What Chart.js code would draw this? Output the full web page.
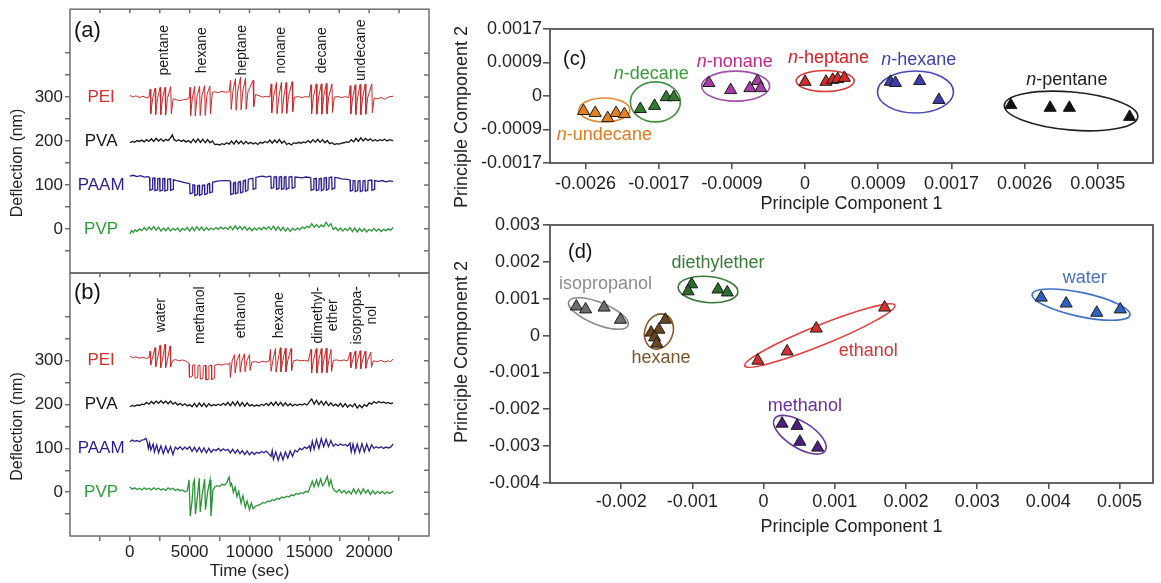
<!DOCTYPE html>
<html>
<head>
<meta charset="utf-8">
<script src="https://cdn.jsdelivr.net/npm/chart.js@4.4.0/dist/chart.umd.min.js"></script>
<style>
  body { margin: 0; background: #fff; width: 1161px; height: 583px; overflow: hidden; position: relative; }
  canvas { position: absolute; }
</style>
</head>
<body>
<canvas id="panelA" width="440" height="288" style="left:0;top:-3px"></canvas>
<canvas id="panelB" width="440" height="322" style="left:0;top:261px"></canvas>
<canvas id="panelC" width="721" height="215" style="left:440px;top:0"></canvas>
<canvas id="panelD" width="721" height="373" style="left:440px;top:210px"></canvas>
<script>
// ---- deflection traces, [time (s), deflection (nm)] ----
const polymerNames = ['PEI', 'PVA', 'PAAM', 'PVP'];
const polymerLevels = [300, 200, 100, 0];
const nameTime = -2400;

const alkanesA = ['pentane', 'hexane', 'heptane', 'nonane', 'decane', 'undecane'];
const alkaneTimesA = [2833, 6083, 9417, 12667, 16083, 19333];
const solventsB = [['water'], ['methanol'], ['ethanol'], ['hexane'], ['dimethyl-', 'ether'], ['isopropa-', 'nol']];
const solventTimesB = [2583, 5917, 9333, 12500, 16333, 19625];

const deflectionTicks = [-50, 0, 50, 100, 150, 200, 250, 300, 350, 400];
const deflectionLabels = [0, 100, 200, 300];
const timeTicks = [-2500, 0, 2500, 5000, 7500, 10000, 12500, 15000, 17500, 20000, 22500];
const timeLabels = [0, 5000, 10000, 15000, 20000];

const peiA = [[0,304],[250,300],[500,303],[800,299],[1100,302],[1400,298],[1600,300],
  [1700,318],[1750,262],[1900,296],[2110,320],[2160,260],[2310,296],[2530,322],[2580,260],[2730,297],[2940,322],[2990,259],[3140,297],[3420,324],[3470,262],[3620,296],
  [3900,294],[4200,292],[4500,294],[4800,295],[4950,298],
  [5030,322],[5080,258],[5230,300],[5420,324],[5470,257],[5620,302],[5830,325],[5880,258],[6030,304],[6250,326],[6300,258],[6450,306],[6690,325],[6740,262],[6890,310],
  [7100,312],[7400,310],[7700,313],[8000,311],[8300,312],
  [8420,338],[8470,272],[8620,314],[8830,342],[8880,270],[9030,316],[9250,345],[9300,271],[9450,314],[9670,343],[9720,272],[9870,312],[10300,338],[10350,278],[10500,306],
  [10800,303],[11100,300],[11400,302],[11700,300],
  [11810,330],[11860,264],[12010,300],[12250,333],[12300,262],[12450,300],[12670,334],[12720,263],[12870,300],[13060,333],[13110,263],[13260,301],[13560,335],[13610,267],[13760,300],
  [14100,301],[14400,299],[14700,301],[15000,300],
  [15140,328],[15190,262],[15340,300],[15580,330],[15630,261],[15780,300],[16000,330],[16050,261],[16200,301],[16420,331],[16470,262],[16620,300],[16890,330],[16940,265],[17090,300],
  [17400,301],[17700,299],[18000,301],[18300,299],
  [18420,326],[18470,262],[18620,298],[18830,328],[18880,260],[19030,298],[19250,329],[19300,260],[19450,298],[19670,330],[19720,261],[19870,298],[20220,330],[20270,264],[20420,298],
  [20700,296],[21000,299],[21300,295],[21600,300],[22000,302]];

const pvaA = [[0,196],[200,199],[400,197],[600,201],[800,199],[1000,202],[1200,198],[1400,203],[1600,199],[1800,205],[2000,199],[2200,206],[2400,200],[2600,205],[2800,199],[3000,204],[3200,201],[3400,207],[3550,214],[3700,203],[3900,200],[4100,203],[4300,199],[4500,202],[4700,198],[4900,201],[5100,196],[5300,204],[5500,197],[5700,205],[5900,197],[6100,204],[6300,196],[6500,203],[6700,196],[6900,200],[7100,192],[7300,193],[7500,191],[7700,194],[7900,192],[8100,196],[8300,193],[8500,200],[8700,193],[8900,201],[9100,194],[9300,200],[9500,193],[9700,199],[9900,194],[10100,197],[10300,193],[10500,196],[10700,192],[10900,197],[11100,195],[11300,199],[11500,196],[11700,202],[11900,195],[12100,202],[12300,196],[12500,203],[12700,195],[12900,200],[13100,192],[13300,195],[13500,191],[13700,196],[13900,194],[14100,197],[14300,195],[14500,198],[14700,196],[14900,201],[15100,196],[15300,203],[15500,197],[15700,204],[15900,197],[16100,203],[16300,196],[16500,201],[16700,194],[16900,196],[17100,192],[17300,194],[17500,193],[17700,195],[17900,196],[18100,198],[18300,197],[18500,203],[18700,198],[18900,206],[19100,199],[19300,207],[19500,200],[19700,206],[19900,201],[20100,205],[20300,200],[20500,203],[20700,200],[20900,203],[21100,201],[21300,204],[21500,200],[21700,203],[22000,201]];

const paamA = [[0,120],[300,122],[600,119],[900,121],[1200,118],[1550,119],
  [1650,117],[1680,88],[1880,90],[1910,115],[2070,116],[2100,87],[2300,89],[2330,114],[2490,115],[2520,86],[2720,88],[2750,114],[2900,115],[2930,86],[3130,88],[3160,113],[3380,114],[3410,88],[3610,90],[3640,112],
  [3900,110],[4200,108],[4500,106],[4800,104],[4950,103],
  [5000,104],[5030,80],[5230,82],[5260,100],[5400,100],[5430,76],[5630,78],[5660,98],[5800,99],[5830,76],[6030,79],[6060,99],[6230,100],[6260,78],[6460,80],[6490,101],[6650,103],[6680,82],[6880,84],[6910,106],
  [7200,108],[7500,109],[7800,110],[8100,110],[8350,109],
  [8400,108],[8430,78],[8630,80],[8660,104],[8800,106],[8830,80],[9030,82],[9060,106],[9220,108],[9250,82],[9450,84],[9480,109],[9640,111],[9670,85],[9870,88],[9900,113],[10280,115],[10310,90],[10500,92],[10530,117],
  [10800,119],[11100,120],[11400,118],[11700,120],
  [11790,119],[11820,92],[12020,94],[12050,118],[12230,119],[12260,90],[12460,92],[12490,118],[12650,119],[12680,90],[12880,92],[12910,118],[13040,119],[13070,90],[13270,93],[13300,118],[13540,119],[13570,92],[13770,95],[13800,118],
  [14100,117],[14400,116],[14700,118],[15000,117],
  [15120,116],[15150,88],[15350,90],[15380,114],[15560,115],[15590,87],[15790,89],[15820,114],[15980,115],[16010,87],[16210,90],[16240,116],[16400,117],[16430,88],[16630,91],[16660,117],[16870,118],[16900,90],[17100,93],[17130,117],
  [17400,116],[17700,114],[18000,113],[18300,112],
  [18400,111],[18430,86],[18630,88],[18660,110],[18810,110],[18840,85],[19040,87],[19070,109],[19230,110],[19260,85],[19460,87],[19490,109],[19650,110],[19680,86],[19880,88],[19910,110],[20200,111],[20230,88],[20430,90],[20460,110],
  [20800,108],[21100,110],[21400,107],[21700,109],[22000,108]];

const pvpA = [[0,-12],[150,-4],[300,-8],[450,-2],[600,-6],[800,0],[1000,-4],[1200,3],[1400,-3],[1600,4],[1800,-2],[2000,5],[2200,-3],[2400,4],[2600,-5],[2800,2],[3000,-4],[3200,3],[3400,-5],[3600,1],[3800,-3],[4000,2],[4200,-6],[4400,1],[4600,-3],[4800,3],[5000,-5],[5200,4],[5400,-4],[5600,5],[5800,-3],[6000,4],[6200,-4],[6400,3],[6600,-3],[6800,2],[7000,-2],[7200,3],[7400,-1],[7600,4],[7800,0],[8000,3],[8200,-1],[8400,6],[8600,-2],[8800,7],[9000,-1],[9200,6],[9400,-2],[9600,5],[9800,-3],[10000,3],[10200,-4],[10400,2],[10600,-3],[10800,3],[11000,-2],[11200,4],[11400,-1],[11600,5],[11800,-2],[12000,6],[12200,-3],[12400,5],[12600,-4],[12800,4],[13000,-5],[13200,2],[13400,-6],[13600,1],[13800,-3],[14000,2],[14200,-2],[14400,4],[14600,1],[14800,6],[15000,3],[15200,12],[15400,4],[15600,10],[15800,3],[16000,9],[16200,5],[16400,15],[16600,6],[16800,12],[17000,-2],[17200,3],[17400,-4],[17600,2],[17800,-5],[18000,1],[18200,-4],[18400,3],[18600,-6],[18800,2],[19000,-7],[19200,1],[19400,-6],[19600,0],[19800,-7],[20000,-1],[20200,-5],[20400,1],[20600,-5],[20800,0],[21000,-6],[21200,-1],[21400,-4],[21600,0],[21800,-3],[22000,3]];

const peiB = [[0,310],[250,307],[500,309],[800,306],[1100,308],[1400,305],[1600,308],
  [1690,322],[1740,290],[1890,306],[2110,330],[2160,286],[2310,304],[2530,336],[2580,284],[2730,303],[2940,338],[2990,284],[3140,302],[3360,334],[3410,286],[3560,300],
  [3800,303],[4100,300],[4400,302],[4700,299],[4900,296],
  [4950,292],[4980,262],[5200,265],[5230,290],[5420,291],[5450,260],[5670,262],[5700,289],[5860,290],[5890,258],[6110,260],[6140,288],[6330,290],[6360,256],[6580,258],[6610,288],[6810,290],[6840,257],[7060,260],[7090,290],
  [7400,292],[7700,290],[8000,293],[8250,292],
  [8360,296],[8400,262],[8550,300],[8750,314],[8800,272],[8950,300],[9170,316],[9220,274],[9370,300],[9580,316],[9630,275],[9780,300],[10000,314],[10050,278],[10200,297],
  [10500,298],[10800,296],[11100,299],[11400,297],[11650,300],
  [11750,326],[11800,276],[11950,300],[12170,328],[12220,274],[12370,300],[12580,330],[12630,275],[12780,300],[13000,329],[13050,275],[13200,301],[13470,328],[13520,278],[13670,300],
  [14000,302],[14300,300],[14600,301],[14900,299],
  [15140,326],[15190,272],[15340,300],[15580,328],[15630,272],[15780,300],[16000,328],[16050,273],[16200,300],[16420,329],[16470,273],[16620,300],[16810,326],[16860,276],[17010,301],
  [17300,302],[17600,300],[17900,302],[18200,300],
  [18420,320],[18470,284],[18620,302],[18830,322],[18880,282],[19030,302],[19250,323],[19300,282],[19450,302],[19670,322],[19720,283],[19870,301],[20140,320],[20190,285],[20340,300],
  [20700,298],[21000,301],[21300,297],[21600,300],[21800,298],[22000,304]];

const pvaB = [[0,195],[200,198],[400,196],[600,199],[800,198],[1000,201],[1200,200],[1400,205],[1600,201],[1800,207],[2000,202],[2200,208],[2400,203],[2600,209],[2800,203],[3000,208],[3200,202],[3400,208],[3600,201],[3800,205],[4000,199],[4200,203],[4400,198],[4600,202],[4800,197],[5000,200],[5200,195],[5400,203],[5600,195],[5800,204],[6000,196],[6200,203],[6400,195],[6600,202],[6800,197],[7000,200],[7200,198],[7400,201],[7600,198],[7800,203],[8000,199],[8200,205],[8400,197],[8600,206],[8800,198],[9000,207],[9200,197],[9400,205],[9600,196],[9800,204],[10000,197],[10200,200],[10400,196],[10600,199],[10800,197],[11000,201],[11200,198],[11400,203],[11600,198],[11800,205],[12000,198],[12200,206],[12400,198],[12600,205],[12800,197],[13000,204],[13200,197],[13400,202],[13600,197],[13800,201],[14000,198],[14200,201],[14400,199],[14600,202],[14800,199],[15000,206],[15200,213],[15400,201],[15600,210],[15800,200],[16000,208],[16200,199],[16400,207],[16600,198],[16800,204],[17000,197],[17200,201],[17400,196],[17600,203],[17800,195],[18000,202],[18200,194],[18400,200],[18600,195],[18800,202],[19000,192],[19200,199],[19400,193],[19600,200],[19800,196],[20000,204],[20200,201],[20400,207],[20600,203],[20800,207],[21000,204],[21200,206],[21400,203],[21600,205],[21800,202],[22000,204]];

const paamB = [[0,115],[200,119],[400,116],[600,118],[800,115],[1000,119],[1200,120],[1350,123],[1450,115],[1550,100],[1650,112],[1750,96],[1950,110],[2050,92],[2250,108],[2400,90],[2600,106],[2800,88],[3000,105],[3200,90],[3400,104],[3600,86],[3800,103],[4000,98],[4200,104],[4400,97],[4600,103],[4800,98],[5000,104],[5200,93],[5400,103],[5600,92],[5800,102],[6000,91],[6200,101],[6400,90],[6600,100],[6800,91],[7000,98],[7200,95],[7400,100],[7600,94],[7800,99],[8000,95],[8200,98],[8400,90],[8600,98],[8800,89],[9000,97],[9200,88],[9400,95],[9600,86],[9800,94],[10000,85],[10200,92],[10400,86],[10600,91],[10800,89],[11000,93],[11200,90],[11400,94],[11600,88],[11800,82],[11900,95],[12000,75],[12200,92],[12400,73],[12600,90],[12800,74],[13000,92],[13200,78],[13400,94],[13600,82],[13800,96],[14000,92],[14200,100],[14400,97],[14600,103],[14800,100],[15000,106],[15100,96],[15250,116],[15400,98],[15600,120],[15800,100],[16000,122],[16200,104],[16400,121],[16600,104],[16800,118],[17000,105],[17200,110],[17400,106],[17600,110],[17800,107],[18000,109],[18200,105],[18400,112],[18500,92],[18650,110],[18800,90],[19000,110],[19200,91],[19400,111],[19600,92],[19800,110],[20000,94],[20200,108],[20400,100],[20600,104],[20800,101],[21000,104],[21200,100],[21400,103],[21600,101],[21800,103],[22000,110]];

const pvpB = [[0,12],[200,7],[400,10],[600,6],[800,9],[1000,5],[1200,10],[1400,6],[1600,9],[1800,5],[2000,10],[2200,6],[2400,9],[2600,5],[2800,8],[3000,4],[3200,10],[3400,6],[3600,9],[3800,4],[4000,7],[4200,3],[4400,5],[4600,1],[4800,3],[4950,28],[5050,-55],[5200,-20],[5300,20],[5400,28],[5480,-50],[5650,-10],[5800,32],[5880,-45],[6050,-5],[6250,30],[6320,-40],[6500,0],[6700,28],[6780,-55],[6950,5],[7100,12],[7300,15],[7500,13],[7700,18],[7900,16],[8100,22],[8300,35],[8400,15],[8500,20],[8650,0],[8800,12],[8950,-10],[9100,2],[9300,-25],[9450,-8],[9650,-35],[9800,-20],[10000,-40],[10150,-25],[10300,-38],[10500,-32],[10700,-30],[10900,-28],[11100,-24],[11300,-25],[11500,-20],[11700,-22],[11900,-17],[12100,-19],[12300,-14],[12500,-16],[12700,-11],[12900,-13],[13100,-9],[13300,-11],[13500,-6],[13700,-8],[13900,-3],[14100,-5],[14300,-1],[14500,-3],[14700,2],[14900,0],[15100,14],[15250,25],[15400,12],[15600,28],[15750,14],[15950,30],[16100,15],[16300,22],[16500,36],[16650,15],[16800,28],[16950,10],[17100,4],[17300,0],[17500,6],[17700,-2],[17900,4],[18100,-3],[18300,3],[18500,-4],[18700,8],[18900,-3],[19100,7],[19300,-4],[19500,8],[19700,-2],[19900,5],[20100,-5],[20300,3],[20500,-4],[20700,2],[20900,-3],[21100,2],[21300,-4],[21500,1],[21700,-3],[21900,0],[22000,3]];

// ---- PCA scores ----
const alkaneNames = ['undecane', 'decane', 'nonane', 'heptane', 'hexane', 'pentane'];
const alkanePC1 = [
  [-0.00265, -0.00251, -0.00236, -0.00226, -0.00216],
  [-0.00197, -0.00180, -0.00166, -0.00157],
  [-0.00115, -0.00089, -0.00066, -0.00057, -0.00053],
  [0, 0.00025, 0.00033, 0.00039, 0.00047],
  [0.00102, 0.00108, 0.00137, 0.00160],
  [0.00246, 0.00293, 0.00316, 0.00388]];
const alkanePC2 = [
  [-0.00038, -0.00043, -0.00056, -0.00043, -0.00046],
  [-0.00033, -0.00025, -0.00003, -0.00003],
  [0.00033, 0.00015, 0.00020, 0.00038, 0.00020],
  [0.00036, 0.00036, 0.00041, 0.00043, 0.00046],
  [0.00036, 0.00033, 0.00038, -0.00010],
  [-0.00023, -0.00030, -0.00030, -0.00053]];
const pcTicksC1 = [-0.002625, -0.00175, -0.000875, 0, 0.000875, 0.00175, 0.002625, 0.0035];
const pcLabelsC1 = ['-0.0026', '-0.0017', '-0.0009', '0', '0.0009', '0.0017', '0.0026', '0.0035'];
const pcTicksC2 = [-0.0017, -0.00085, 0, 0.00085, 0.0017];
const pcLabelsC2 = ['-0.0017', '-0.0009', '0', '0.0009', '0.0017'];

const solventNames = ['isopropanol', 'hexane', 'diethylether', 'ethanol', 'methanol', 'water'];
const solventPC1 = [
  [-0.00263, -0.00250, -0.00224, -0.00201],
  [-0.00158, -0.00147, -0.00138, -0.00153, -0.00150],
  [-0.00101, -0.00106, -0.00064, -0.00051],
  [-0.00008, 0.00033, 0.00074, 0.00170],
  [0.00026, 0.00047, 0.00051, 0.00076],
  [0.00390, 0.00425, 0.00468, 0.00501]];
const solventPC2 = [
  [0.00079, 0.00071, 0.00076, 0.00043],
  [0.00008, 0.00016, 0.00043, -0.00005, -0.00022],
  [0.00139, 0.00120, 0.00125, 0.00117],
  [-0.00068, -0.00043, 0.00019, 0.00076],
  [-0.00239, -0.00245, -0.00288, -0.00304],
  [0.00103, 0.00087, 0.00062, 0.00071]];
const pcTicksD1 = [-0.002, -0.001, 0, 0.001, 0.002, 0.003, 0.004, 0.005];
const pcLabelsD1 = ['-0.002', '-0.001', '0', '0.001', '0.002', '0.003', '0.004', '0.005'];
const pcTicksD2 = [-0.004, -0.003, -0.002, -0.001, 0, 0.001, 0.002, 0.003];
const pcLabelsD2 = ['-0.004', '-0.003', '-0.002', '-0.001', '0', '0.001', '0.002', '0.003'];

// ---- styling ----
const FONT = '"Liberation Sans", Arial, Helvetica, sans-serif';
Chart.defaults.font.family = FONT;
Chart.defaults.color = '#222';
Chart.defaults.animation = false;

const traceColors = ['#c62a2a', '#141414', '#2b1f8e', '#2a9438'];
const traceNameColors = ['#d0302c', '#161616', '#2b1f8e', '#2e9e3a'];

// cluster rings: centre (data units), radii (px), tilt (deg)
const alkaneRings = [
  { x: -0.00240, y: -0.000355, rx: 25.5, ry: 12, tilt: 0 },
  { x: -0.00179, y: -0.00015, rx: 25, ry: 20, tilt: 0 },
  { x: -0.00083, y: 0.00025, rx: 34, ry: 15, tilt: 0 },
  { x: 0.00024, y: 0.00038, rx: 29, ry: 10.5, tilt: 0 },
  { x: 0.00132, y: 0.00010, rx: 38, ry: 21, tilt: 0 },
  { x: 0.00318, y: -0.00038, rx: 67, ry: 19, tilt: 5 }];
const alkaneTags = [[-0.00240, -0.00099], [-0.00184, 0.00056], [-0.00084, 0.00086], [0.00028, 0.00096], [0.00136, 0.00091], [0.00313, 0.00041]];
const alkaneStyle = [
  { fill: '#e8801e', ring: '#e08a30', text: '#e07b20' },
  { fill: '#2f7a2f', ring: '#3f8f3f', text: '#3c9a3c' },
  { fill: '#a43ea4', ring: '#a050a8', text: '#c2288c' },
  { fill: '#d42a2a', ring: '#d83a3a', text: '#d42020' },
  { fill: '#3c3cb0', ring: '#4848b8', text: '#4040b0' },
  { fill: '#111111', ring: '#222222', text: '#222222' }];

const solventRings = [
  { x: -0.00232, y: 0.00060, rx: 32, ry: 11, tilt: 22 },
  { x: -0.00147, y: 0.00011, rx: 14, ry: 18, tilt: 20 },
  { x: -0.00078, y: 0.00125, rx: 30, ry: 13, tilt: 5 },
  { x: 0.00079, y: 0.00000, rx: 81, ry: 10, tilt: -22 },
  { x: 0.00051, y: -0.00269, rx: 30, ry: 13, tilt: 32 },
  { x: 0.00446, y: 0.00084, rx: 50, ry: 12, tilt: 12 }];
const solventTags = [[-0.00222, 0.00139], [-0.00144, -0.00060], [-0.00064, 0.00198], [0.00147, -0.00041], [0.00058, -0.00190], [0.00451, 0.00155]];
const solventStyle = [
  { fill: '#6e6e6e', ring: '#8a8a8a', text: '#8c8c8c' },
  { fill: '#6b4420', ring: '#8a5a2a', text: '#7a5530' },
  { fill: '#2d6a2d', ring: '#3a7a3a', text: '#3a7a3a' },
  { fill: '#d03030', ring: '#e04040', text: '#d03838' },
  { fill: '#4b2080', ring: '#6a3a9a', text: '#6a30a0' },
  { fill: '#3060c0', ring: '#4070c8', text: '#4a70c0' }];

// ---- deflection panels ----
const tracePanelDecor = {
  id: 'tracePanelDecor',
  afterDraw(chart, args, o) {
    const { ctx, chartArea: a, scales: { x, y } } = chart;
    ctx.save();
    ctx.strokeStyle = '#6e6e6e';
    ctx.lineWidth = 1.5;
    ctx.strokeRect(a.left, a.top, a.right - a.left, a.bottom - a.top);
    ctx.beginPath();
    deflectionTicks.forEach(v => {
      const py = y.getPixelForValue(v);
      ctx.moveTo(a.right, py); ctx.lineTo(a.right - 5, py);
    });
    timeTicks.forEach(t => {
      const px = x.getPixelForValue(t);
      ctx.moveTo(px, a.top); ctx.lineTo(px, a.top + 4);
    });
    ctx.stroke();

    ctx.textAlign = 'center';
    ctx.textBaseline = 'middle';
    ctx.font = '17px ' + FONT;
    polymerNames.forEach((n, i) => {
      ctx.fillStyle = traceNameColors[i];
      ctx.fillText(n, x.getPixelForValue(nameTime), y.getPixelForValue(polymerLevels[i]));
    });

    // exposure names, written upwards
    ctx.fillStyle = '#1a1a1a';
    ctx.font = '14px ' + FONT;
    o.names.forEach((lines, i) => {
      ctx.save();
      ctx.translate(x.getPixelForValue(o.times[i]), a.top + o.nameDy);
      ctx.rotate(-Math.PI / 2);
      lines.forEach((s, k) => ctx.fillText(s, 0, (k - (lines.length - 1) / 2) * 15));
      ctx.restore();
    });

    // y title
    ctx.save();
    ctx.font = '16px ' + FONT;
    ctx.fillStyle = '#222';
    ctx.translate(a.left - 52, y.getPixelForValue(150));
    ctx.rotate(-Math.PI / 2);
    ctx.fillText('Deflection (nm)', 0, 0);
    ctx.restore();

    ctx.font = '22px ' + FONT;
    ctx.textAlign = 'left';
    ctx.fillStyle = '#111';
    ctx.fillText(o.tag, a.left + 4, a.top + o.tagDy);
    ctx.restore();
  }
};

function traceDatasets(series) {
  return series.map((pts, i) => ({
    data: pts,
    borderColor: traceColors[i],
    borderWidth: i === 0 ? 1 : 1.3,
    pointRadius: 0,
    tension: 0
  }));
}

function traceChart(id, series, withTimeAxis, decor, padding) {
  return new Chart(document.getElementById(id), {
    type: 'line',
    data: { datasets: traceDatasets(series) },
    plugins: [tracePanelDecor],
    options: {
      responsive: false,
      layout: { padding },
      plugins: { legend: { display: false }, tooltip: { enabled: false }, tracePanelDecor: decor },
      scales: {
        x: {
          type: 'linear', min: -5000, max: 25000, display: withTimeAxis,
          afterBuildTicks: s => { s.ticks = timeTicks.map(v => ({ value: v })); },
          ticks: { autoSkip: false, maxRotation: 0, padding: 1, font: { size: 17 }, color: '#222',
                   callback: v => timeLabels.includes(v) ? String(v) : '' },
          grid: { drawOnChartArea: false, tickLength: 5, color: '#6e6e6e', lineWidth: 1.5 },
          border: { display: false },
          title: { display: true, text: 'Time (sec)', font: { size: 17 }, color: '#222', padding: { top: 0, bottom: 1 } },
          afterFit: s => { s.height = withTimeAxis ? 47 : 0; }
        },
        y: {
          type: 'linear', min: -100, max: 500,
          afterBuildTicks: s => { s.ticks = deflectionTicks.map(v => ({ value: v })); },
          ticks: { autoSkip: false, padding: 2, font: { size: 17 }, color: '#222',
                   callback: v => deflectionLabels.includes(v) ? String(v) : '' },
          grid: { drawOnChartArea: false, tickLength: 5, color: '#6e6e6e', lineWidth: 1.5 },
          border: { display: false },
          afterFit: s => { s.width = 70; }
        }
      }
    }
  });
}

traceChart('panelA', [peiA, pvaA, paamA, pvpA], false,
  { names: alkanesA.map(s => [s]), times: alkaneTimesA, nameDy: 41, tag: '(a)', tagDy: 22 },
  { top: 0, right: 11, bottom: 0, left: 0 });
traceChart('panelB', [peiB, pvaB, paamB, pvpB], true,
  { names: solventsB, times: solventTimesB, nameDy: 42, tag: '(b)', tagDy: 20 },
  { top: 0, right: 11, bottom: 0, left: 0 });

// ---- PCA panels ----
const pcaDecor = {
  id: 'pcaDecor',
  beforeDatasetsDraw(chart, args, o) {
    const { ctx, scales: { x, y } } = chart;
    ctx.save();
    ctx.lineWidth = 1.6;
    o.rings.forEach((r, i) => {
      ctx.strokeStyle = o.style[i].ring;
      ctx.beginPath();
      ctx.ellipse(x.getPixelForValue(r.x), y.getPixelForValue(r.y), r.rx, r.ry, r.tilt * Math.PI / 180, 0, Math.PI * 2);
      ctx.stroke();
    });
    ctx.restore();
  },
  afterDraw(chart, args, o) {
    const { ctx, chartArea: a, scales: { x, y } } = chart;
    ctx.save();
    ctx.strokeStyle = '#555';
    ctx.lineWidth = 1.8;
    ctx.strokeRect(a.left, a.top, a.right - a.left, a.bottom - a.top);

    ctx.textBaseline = 'middle';
    o.tags.forEach((p, i) => {
      const cx = x.getPixelForValue(p[0]), cy = y.getPixelForValue(p[1]);
      ctx.fillStyle = o.style[i].text;
      if (o.italicN) {
        ctx.font = 'italic 18px ' + FONT;
        const w1 = ctx.measureText('n').width;
        ctx.font = '18px ' + FONT;
        const rest = '-' + o.names[i];
        const w2 = ctx.measureText(rest).width;
        const x0 = cx - (w1 + w2) / 2;
        ctx.textAlign = 'left';
        ctx.font = 'italic 18px ' + FONT;
        ctx.fillText('n', x0, cy);
        ctx.font = '18px ' + FONT;
        ctx.fillText(rest, x0 + w1, cy);
      } else {
        ctx.textAlign = 'center';
        ctx.font = '18px ' + FONT;
        ctx.fillText(o.names[i], cx, cy);
      }
    });

    ctx.fillStyle = '#111';
    ctx.textAlign = 'left';
    ctx.font = '20px ' + FONT;
    ctx.fillText(o.tag, a.left + o.tagDx, a.top + o.tagDy);

    ctx.save();
    ctx.font = '18px ' + FONT;
    ctx.fillStyle = '#222';
    ctx.textAlign = 'center';
    ctx.translate(a.left - 88, a.top + o.titleDy);
    ctx.rotate(-Math.PI / 2);
    ctx.fillText('Principle Component 2', 0, 0);
    ctx.restore();
    ctx.restore();
  }
};

function pcaChart(id, pc1, pc2, style, xr, yr, decor, padding, xHeight, xPad, yPad) {
  const datasets = pc1.map((xs, i) => ({
    data: xs.map((v, k) => ({ x: v, y: pc2[i][k] })),
    pointStyle: 'triangle',
    pointRadius: 7,
    backgroundColor: style[i].fill,
    borderColor: '#1a1a1a',
    borderWidth: 1
  }));
  return new Chart(document.getElementById(id), {
    type: 'scatter',
    data: { datasets },
    plugins: [pcaDecor],
    options: {
      responsive: false,
      layout: { padding },
      plugins: { legend: { display: false }, tooltip: { enabled: false }, pcaDecor: decor },
      scales: {
        x: {
          type: 'linear', min: xr.min, max: xr.max,
          afterBuildTicks: s => { s.ticks = xr.ticks.map(v => ({ value: v })); },
          ticks: { autoSkip: false, maxRotation: 0, padding: xPad, font: { size: 18 }, color: '#222',
                   callback: (v, i) => xr.labels[i] },
          grid: { drawOnChartArea: false, tickLength: 6, color: '#555', lineWidth: 1.6 },
          border: { display: false },
          title: { display: true, text: 'Principle Component 1', font: { size: 18 }, color: '#222', padding: { top: 0, bottom: 0 } },
          afterFit: s => { s.height = xHeight; }
        },
        y: {
          type: 'linear', min: yr.min, max: yr.max,
          afterBuildTicks: s => { s.ticks = yr.ticks.map(v => ({ value: v })); },
          ticks: { autoSkip: false, padding: yPad, font: { size: 18 }, color: '#222',
                   callback: (v, i) => yr.labels[i] },
          grid: { drawOnChartArea: false, tickLength: 7, color: '#555', lineWidth: 1.6 },
          border: { display: false },
          afterFit: s => { s.width = 110; }
        }
      }
    }
  });
}

pcaChart('panelC', alkanePC1, alkanePC2, alkaneStyle,
  { min: -0.00305, max: 0.00416, ticks: pcTicksC1, labels: pcLabelsC1 },
  { min: -0.0017, max: 0.0017, ticks: pcTicksC2, labels: pcLabelsC2 },
  { rings: alkaneRings, tags: alkaneTags, style: alkaneStyle, names: alkaneNames, italicN: true,
    tag: '(c)', tagDx: 13, tagDy: 30, titleDy: 88 },
  { top: 29, right: 1, bottom: 0, left: 0 }, 52, 4, 1);

pcaChart('panelD', solventPC1, solventPC2, solventStyle,
  { min: -0.003, max: 0.00547, ticks: pcTicksD1, labels: pcLabelsD1 },
  { min: -0.004, max: 0.003, ticks: pcTicksD2, labels: pcLabelsD2 },
  { rings: solventRings, tags: solventTags, style: solventStyle, names: solventNames, italicN: false,
    tag: '(d)', tagDx: 18, tagDy: 27, titleDy: 127 },
  { top: 15, right: 1, bottom: 45, left: 0 }, 55, 2, 3);
</script>
</body>
</html>
